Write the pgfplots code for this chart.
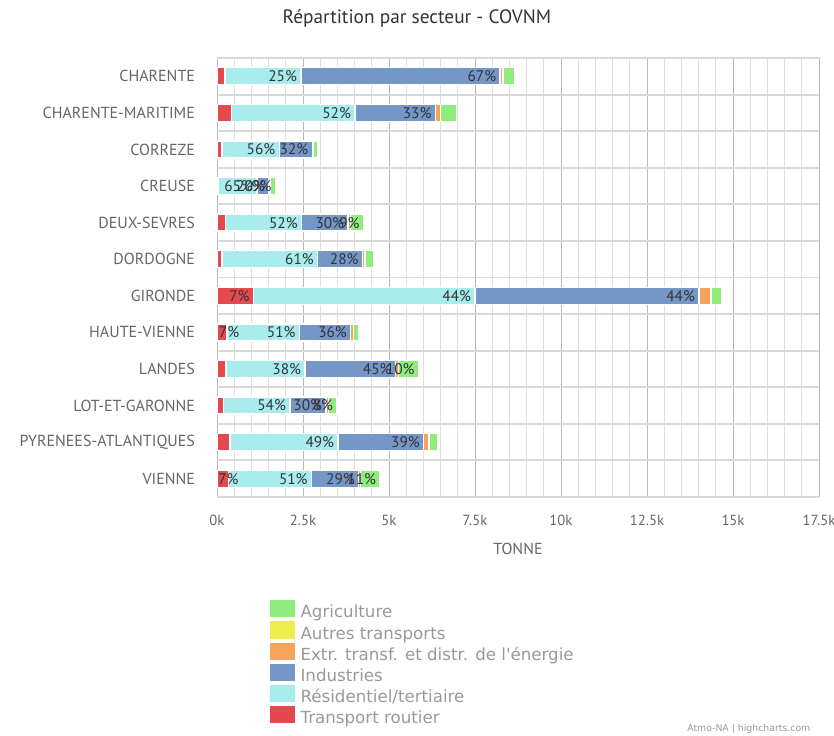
\documentclass[border=0pt]{standalone}
\usepackage{pgfplots}
\pgfplotsset{compat=1.18}
\usepackage{pgfplotstable}
\usepackage{fontspec}
\setmainfont{PT Sans}
\newfontfamily\legfont{DejaVu Sans}
\definecolor{ctr}{HTML}{E34A4F}
\definecolor{cres}{HTML}{A8ECEE}
\definecolor{cind}{HTML}{7597C7}
\definecolor{cext}{HTML}{F7A35C}
\definecolor{caut}{HTML}{EDED4E}
\definecolor{cagr}{HTML}{90ED7D}
\definecolor{txtgray}{HTML}{666666}
\definecolor{leggray}{HTML}{999999}
\protected\def\sevenA{\rlap{\hspace{-3pt}7\%}}
\protected\def\sevenB{\rlap{\hspace{-4.5pt}7\%}}

\pgfplotstableread{
y tr res ind ext aut agr ltr lres lind lext laut lagr
0 0.23 2.21 5.79 0.08 0 0.33 {} 25\% 67\% {} {} {}
1 0.42 3.59 2.34 0.15 0 0.47 {} 52\% 33\% {} {} {}
2 0.15 1.66 0.96 0.03 0 0.12 {} 56\% 32\% {} {} {}
3 0.04 1.12 0.35 0.04 0 0.15 {} 65\% 20\% {} {} 9\%
4 0.24 2.22 1.35 0.07 0 0.38 {} 52\% 30\% {} {} 9\%
5 0.15 2.78 1.30 0.07 0 0.25 {} 61\% 28\% {} {} {}
6 1.06 6.44 6.51 0.35 0 0.32 7\% 44\% 44\% {} {} {}
7 0.29 2.11 1.49 0.08 0 0.15 {\sevenA} 51\% 36\% {} {} {}
8 0.26 2.30 2.63 0.09 0 0.58 {} 38\% 45\% {} {} 10\%
9 0.19 1.93 1.05 0.07 0 0.25 {} 54\% 30\% {} {} 8\%
10 0.38 3.14 2.49 0.15 0 0.26 {} 49\% 39\% {} {} {}
11 0.33 2.42 1.37 0.06 0 0.56 {\sevenB} 51\% 29\% {} {} 11\%
}\data

\begin{document}
\begin{tikzpicture}
\path[use as bounding box] (0,0) rectangle (625.5pt,551.25pt);
\begin{axis}[
  at={(162.75pt,178.5pt)}, anchor=south west,
  width=451.5pt, height=329.25pt, scale only axis,
  xbar stacked, bar width=12.75pt,
  xmin=0, xmax=17.5, ymin=-0.5, ymax=11.5,
  y dir=reverse,
  xtick={0,2.5,5,7.5,10,12.5,15,17.5},
  xticklabels={0k,2.5k,5k,7.5k,10k,12.5k,15k,17.5k},
  minor x tick num=4,
  ytick={0,...,11},
  yticklabels={CHARENTE,CHARENTE-MARITIME,CORREZE,CREUSE,DEUX-SEVRES,DORDOGNE,GIRONDE,HAUTE-VIENNE,LANDES,LOT-ET-GARONNE,PYRENEES-ATLANTIQUES,VIENNE},
  minor ytick={-0.5,0.5,...,11.5},
  major tick length=0pt, minor tick length=0pt,
  xmajorgrids, xminorgrids, yminorgrids,
  major x grid style={draw=black!28, line width=0.6pt},
  minor x grid style={draw=black!13, line width=0.6pt},
  minor y grid style={draw=black!15, line width=1.4pt},
  axis line style={draw=none},
  /pgf/number format/assume math mode=true,
  yticklabel style={xshift=-13pt, font=\fontsize{12}{14}\selectfont, text=txtgray},
  xticklabel style={yshift=-10pt, font=\fontsize{11}{13}\selectfont, text=txtgray},
  xlabel={TONNE},
  xlabel style={at={(axis description cs:0.5,0)}, anchor=center, yshift=-39pt, font=\fontsize{12}{14}\selectfont, text=txtgray},
  title={Répartition par secteur - COVNM},
  title style={at={(axis description cs:0.332,1.091)}, anchor=center, yshift=-6pt, font=\fontsize{14.5}{16}\selectfont, text=black!80},
  visualization depends on={rawx \as \rx},
  nodes near coords={\pgfplotspointmeta},
  point meta=explicit symbolic,
  every node near coord/.append style={anchor=east, xshift={\rx*12.9pt-1.5pt}, inner sep=1pt, font=\fontsize{11.5}{13}\selectfont, text=black!80},
  legend image code/.code={\fill[#1,draw=none] (0pt,-2.6pt) rectangle (18.75pt,10.2pt);},
  reverse legend,
  legend cell align=left,
  legend style={at={(rel axis cs:0.088,-0.2346)}, anchor=north west, draw=none, fill=none, inner sep=0pt, row sep=-2.3pt,
    font=\legfont\fontsize{12.5}{14}\selectfont, text=leggray,
    nodes={inner ysep=0pt, inner xsep=4pt, text height=11pt, text depth=5pt}},
  clip=false,
]
\addplot[fill=ctr, draw=white, line width=1pt] table[x=tr, y=y, meta=ltr] {\data};
\addplot[fill=cres, draw=white, line width=1pt] table[x=res, y=y, meta=lres] {\data};
\addplot[fill=cind, draw=white, line width=1pt] table[x=ind, y=y, meta=lind] {\data};
\addplot[fill=cext, draw=white, line width=1pt] table[x=ext, y=y, meta=lext] {\data};
\addplot[fill=caut, draw=none] table[x=aut, y=y, meta=laut] {\data};
\addplot[fill=cagr, draw=white, line width=1pt] table[x=agr, y=y, meta=lagr] {\data};
\legend{Transport routier, Résidentiel/tertiaire, Industries, {Extr. transf. et distr. de l'énergie}, Autres transports, Agriculture}
\node[anchor=east, font=\legfont\fontsize{7}{8}\selectfont, text=leggray] at (rel axis cs:0.9934,-0.5285) {Atmo-NA | highcharts.com};
\end{axis}
\end{tikzpicture}
\end{document}
